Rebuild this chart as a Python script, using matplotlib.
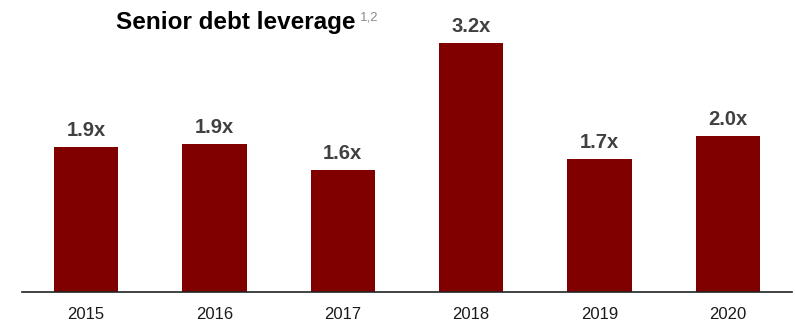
import matplotlib
matplotlib.use('Agg')
import matplotlib.pyplot as plt

years = ["2015", "2016", "2017", "2018", "2019", "2020"]
leverage = [1.87, 1.90, 1.57, 3.20, 1.71, 2.00]

plt.rcParams['font.family'] = ['Liberation Sans', 'DejaVu Sans']

W, H = 795, 323
fig = plt.figure(figsize=(W / 100, H / 100), dpi=100)
ax = fig.add_axes([22 / W, 31 / H, 770 / W, 292 / H])

x = range(len(years))
ax.bar(x, leverage, width=0.5, color="#800000")
for i, v in zip(x, leverage):
    ax.annotate("{:.1f}x".format(v), (i, v), xytext=(0, 5), textcoords="offset points",
                ha="center", va="bottom", fontsize=14.5, fontweight="bold", color="#404040")

ax.set_xlim(-0.5, 5.5)
ax.set_ylim(0, 292 / 77.8)
ax.set_xticks(list(x))
ax.set_xticklabels(years, fontsize=12, color="#1a1a1a")
ax.tick_params(axis="x", length=0, pad=11)
ax.set_yticks([])
for s in ["top", "right", "left"]:
    ax.spines[s].set_visible(False)
ax.spines["bottom"].set_linewidth(1.2)
ax.spines["bottom"].set_color("#222222")
ax.patch.set_alpha(0)

fig.text(116 / W, 1 - 29 / H, "Senior debt leverage", fontsize=17.5, fontweight="bold",
         color="black", ha="left", va="baseline")
fig.text(360 / W, 1 - 21 / H, "1,2", fontsize=9.5, color="#8c8c8c", ha="left", va="baseline")

fig.savefig("out.png", dpi=100)
plt.close()
